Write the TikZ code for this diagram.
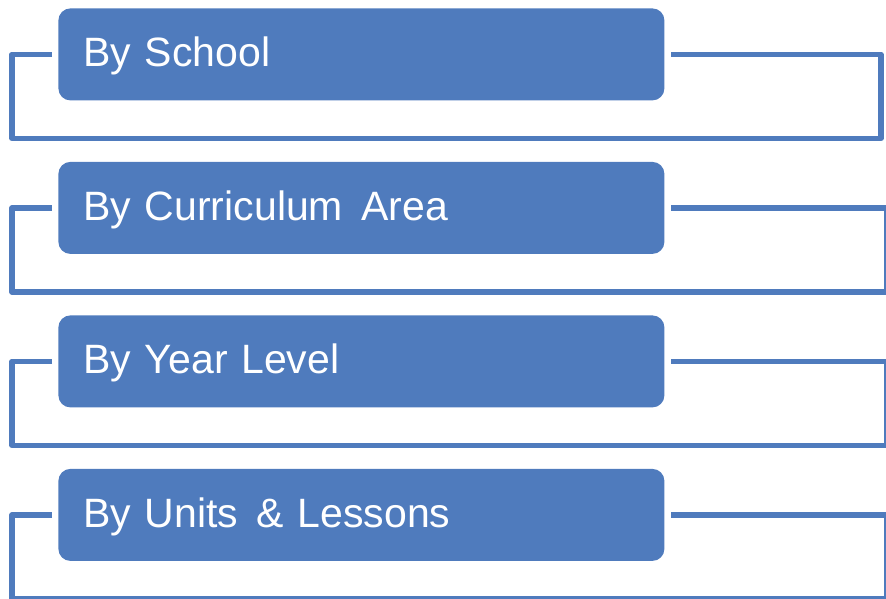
\documentclass[tikz,border=0pt]{standalone}
\usepackage{fontspec}
\setmainfont{Liberation Sans}
\usepackage{tikz}
\usetikzlibrary{positioning}

\definecolor{boxblue}{HTML}{4F7BBD}

\begin{document}
\begin{tikzpicture}[x=1pt, y=1pt, thick]

    % Define block styles
    \tikzstyle{level} = [fill=boxblue, rounded corners=12pt, text=white, font=\fontsize{41}{41}\selectfont, text width=556pt, align=left, inner xsep=25pt, inner ysep=0pt, minimum height=92pt, text height=29pt, text depth=4pt]
    \tikzstyle{frame} = [draw=boxblue, line width=5.5pt, line join=round]

    \useasboundingbox (0,0) rectangle (886,-598);

    % Row 1
    \node[level, anchor=north west] (box1) at (58,-8) {By School};
    \coordinate[left=6pt of box1.west] (in1);
    \coordinate[right=6pt of box1.east] (out1);
    \draw[frame] (in1) -| ++(-40pt,-84pt) -| ([xshift=210pt]out1) -- (out1);

    % Row 2
    \node[level, below=60.7pt of box1] (box2) {By Curriculum\hspace{0.45em}Area};
    \coordinate[left=6pt of box2.west] (in2);
    \coordinate[right=6pt of box2.east] (out2);
    \draw[frame] (in2) -| ++(-40pt,-84pt) -| ([xshift=216pt]out2) -- (out2);

    % Row 3
    \node[level, below=60.7pt of box2] (box3) {By Year Level};
    \coordinate[left=6pt of box3.west] (in3);
    \coordinate[right=6pt of box3.east] (out3);
    \draw[frame] (in3) -| ++(-40pt,-84pt) -| ([xshift=216pt]out3) -- (out3);

    % Row 4
    \node[level, below=60.7pt of box3] (box4) {By Units\hspace{0.45em}\& Lessons};
    \coordinate[left=6pt of box4.west] (in4);
    \coordinate[right=6pt of box4.east] (out4);
    \draw[frame] (in4) -| ++(-40pt,-84pt) -| ([xshift=216pt]out4) -- (out4);

\end{tikzpicture}
\end{document}
